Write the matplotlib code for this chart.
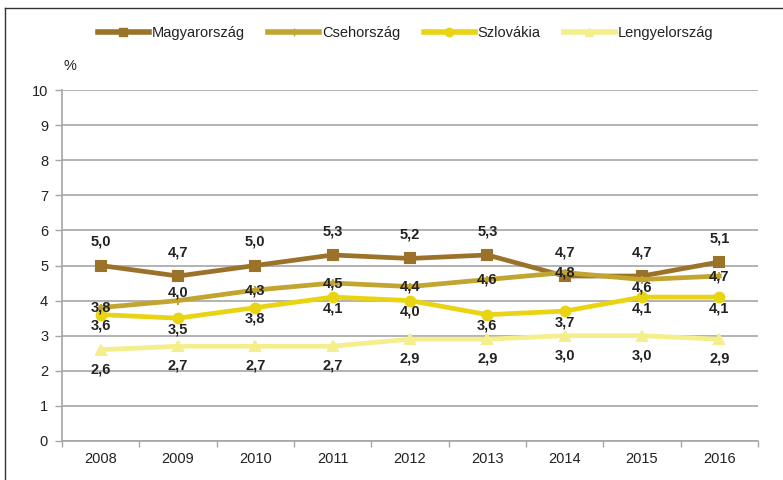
import numpy as np
import matplotlib
matplotlib.use("Agg")
import matplotlib.pyplot as plt
from matplotlib.lines import Line2D

plt.rcParams["font.family"] = ["Liberation Sans", "DejaVu Sans"]

# ── Data ──────────────────────────────────────────────────────────────────────
years = ["2008", "2009", "2010", "2011", "2012", "2013", "2014", "2015", "2016"]
hu = [5.0, 4.7, 5.0, 5.3, 5.2, 5.3, 4.7, 4.7, 5.1]
cz = [3.8, 4.0, 4.3, 4.5, 4.4, 4.6, 4.8, 4.6, 4.7]
sk = [3.6, 3.5, 3.8, 4.1, 4.0, 3.6, 3.7, 4.1, 4.1]
pl = [2.6, 2.7, 2.7, 2.7, 2.9, 2.9, 3.0, 3.0, 2.9]
names = ["Magyarország", "Csehország", "Szlovákia", "Lengyelország"]

# ── Styles ────────────────────────────────────────────────────────────────────
COLORS = ["#9b7229", "#c2a430", "#e8d412", "#f4ee8c"]
MARKERS = ["s", "|", "o", "^"]
GRID = "#a6a6a6"
TXT = "#222222"

fig = plt.figure(figsize=(7.83, 4.80), dpi=100)
ax = fig.add_axes([62 / 783, 1 - 441 / 480, 696 / 783, 351 / 480])

x = np.arange(len(years))
series = [hu, cz, sk, pl]
for vals, col, mk, nm in zip(series, COLORS, MARKERS, names):
    ax.plot(x, vals, color=col, lw=3.4, marker=mk, ms=7 if mk != "|" else 6,
            mew=1.5, mfc=col, mec=col, label=nm, zorder=3)

# data labels (offsets in points)
cz_off = [0, 6, 0, 0, 0, 0, 0, -6, 0]


def lab(v):
    return f"{v:.1f}".replace(".", ",")


for i in x:
    for vals, dy in ((hu, 17), (cz, cz_off[i]), (sk, -8), (pl, -14)):
        ax.annotate(lab(vals[i]), (i, vals[i]), xytext=(0, dy),
                    textcoords="offset points", ha="center", va="center",
                    fontsize=10.5, fontweight="bold", color=TXT, zorder=5)

# ── Axes ──────────────────────────────────────────────────────────────────────
ax.set_xlim(-0.5, len(years) - 0.5)
ax.set_ylim(0, 10)
ax.set_yticks(range(0, 11))
ax.set_xticks(x)
ax.set_xticklabels(years)
ax.set_xticks(np.arange(-0.5, len(years)), minor=True)
ax.tick_params(axis="x", which="major", length=0, pad=8, labelsize=10.5, labelcolor=TXT)
ax.tick_params(axis="x", which="minor", length=4, color=GRID, width=1)
ax.tick_params(axis="y", length=5, color=GRID, width=1, labelsize=10.5,
               labelcolor=TXT, pad=5)
ax.yaxis.grid(True, color=GRID, lw=1.2)
ax.set_axisbelow(True)
for s in ["top", "right"]:
    ax.spines[s].set_visible(False)
for s in ["left", "bottom"]:
    ax.spines[s].set_color(GRID)
    ax.spines[s].set_linewidth(1.2)

fig.text(70 / 783, 1 - 66 / 480, "%", fontsize=10.5, ha="center", va="center",
         color=TXT)

# legend
handles = [Line2D([0], [0], color=c, lw=4, marker=m, ms=6, mfc=c, mec=c)
           for c, m in zip(COLORS, MARKERS)]
fig.legend(handles, names, loc="center", bbox_to_anchor=(0.518, 1 - 33 / 480),
           ncol=4, frameon=False, fontsize=10.5, handlelength=3.5,
           columnspacing=1.6, handletextpad=0.2, labelcolor=TXT)

# outer frame (left and top edges)
fig.add_artist(Line2D([5 / 783, 5 / 783], [0, 1 - 8 / 480], transform=fig.transFigure,
                      color="#333333", lw=1))
fig.add_artist(Line2D([5 / 783, 1], [1 - 8 / 480, 1 - 8 / 480], transform=fig.transFigure,
                      color="#333333", lw=1))

fig.savefig("out.png", dpi=100)
